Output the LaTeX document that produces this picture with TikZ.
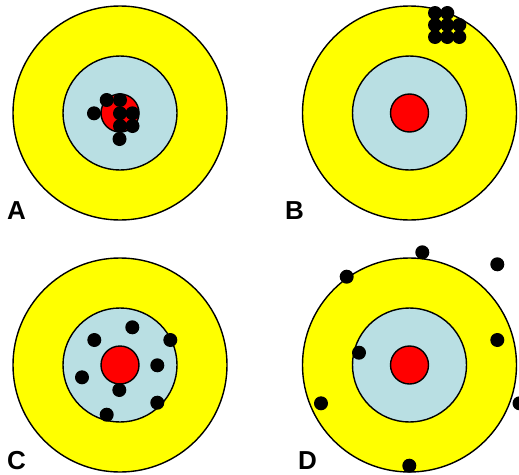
\documentclass[tikz,border=0pt]{standalone}
\usepackage{fontspec}
\setmainfont{Liberation Sans}
\definecolor{tyellow}{RGB}{255,255,0}
\definecolor{tblue}{RGB}{185,223,227}
\definecolor{tred}{RGB}{255,0,0}
\tikzset{
  ring/.style={draw=black, line width=1.4pt},
  shot/.style={fill=black},
  lbl/.style={anchor=base west, inner sep=0pt, font=\fontsize{26}{26}\selectfont\bfseries}
}
\newcommand{\target}[2]{%
  \filldraw[ring, fill=tyellow] (#1,#2) circle (107);
  \filldraw[ring, fill=tblue] (#1,#2) circle (57);
  \filldraw[ring, fill=tred] (#1,#2) circle (19);
}
\begin{document}
\begin{tikzpicture}[x=1pt,y=-1pt]
\useasboundingbox (0,0) rectangle (519,474);
\target{120}{113}
\target{409.5}{113}
\target{120}{365}
\target{409.5}{365}
% A
\foreach \p in {(106.7,100),(120,100),(94,113.3),(120,113.3),(132.5,113.3),(120,126),(132.5,126),(119.5,139)}
  \fill[shot] \p circle (7);
% B
\foreach \p in {(435,13),(447.3,13),(435,25),(447.3,25),(459.3,25),(435,37),(447.3,37),(459.3,37)}
  \fill[shot] \p circle (7);
% C
\foreach \p in {(132.3,327.3),(94.3,340),(170.3,340),(157.3,365.3),(82,377.3),(119.3,390),(157.3,402.7),(106.7,414.7)}
  \fill[shot] \p circle (7);
% D
\foreach \p in {(422.3,252.3),(497.3,264.3),(346.7,276.7),(497.3,340),(359,352.7),(321,403.3),(519.5,403.3),(409.3,465.7)}
  \fill[shot] \p circle (7);
\node[lbl] (la) at (7,219) {A};
\node[lbl] (lb) at (285,219) {B};
\node[lbl] (lc) at (7,469.5) {C};
\node[lbl] (ld) at (298,469.5) {D};
\end{tikzpicture}
\end{document}
